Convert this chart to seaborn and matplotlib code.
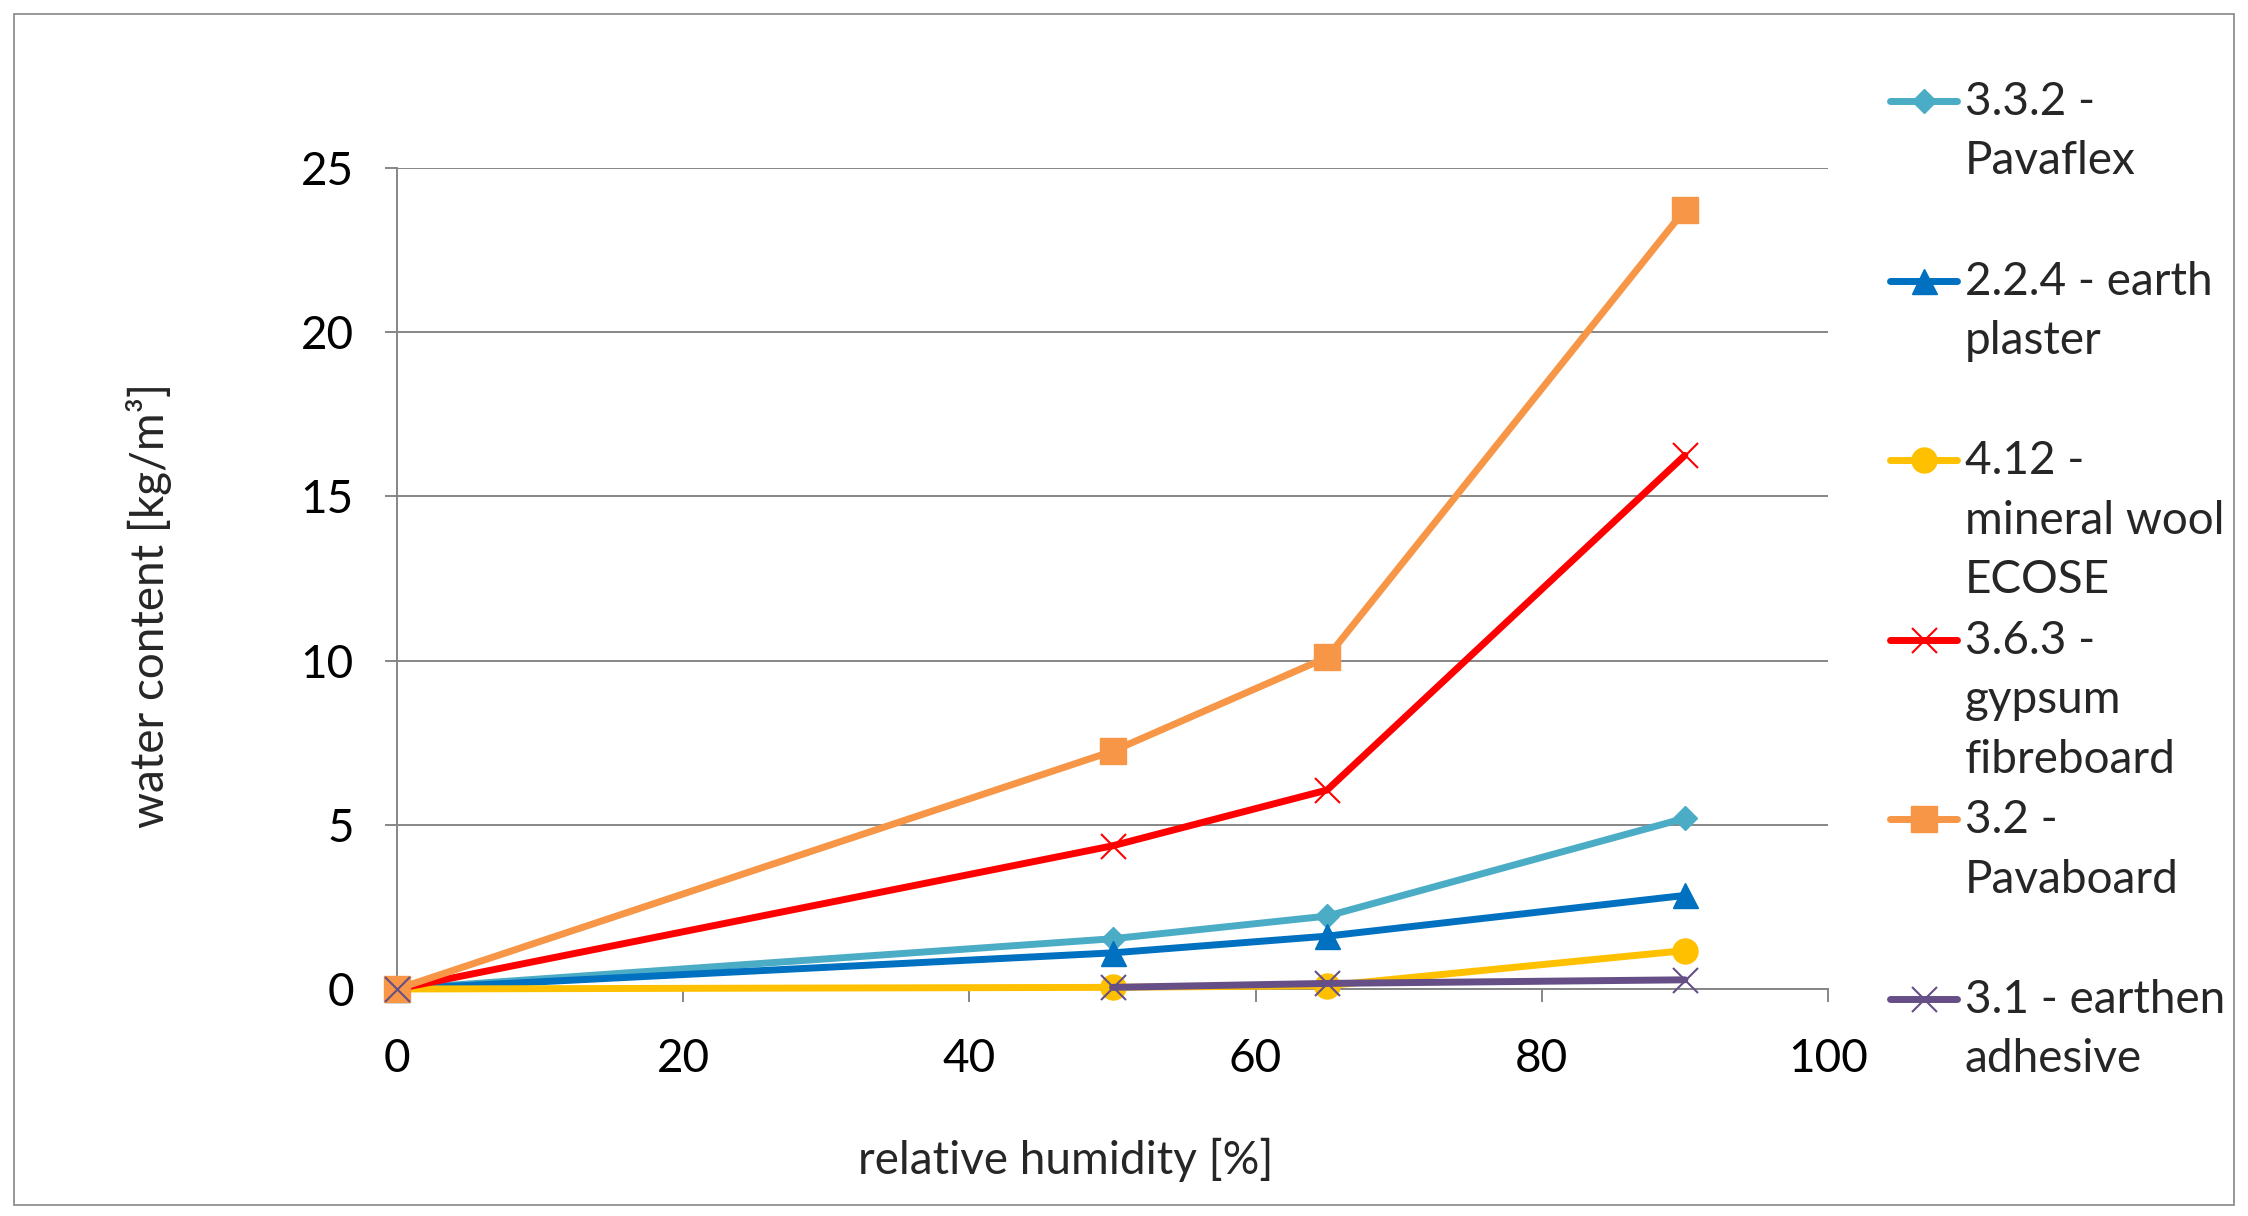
import numpy as np
import pandas as pd
import matplotlib
matplotlib.use("Agg")
import matplotlib.pyplot as plt
import seaborn as sns
from matplotlib.transforms import Affine2D
from matplotlib.patches import Rectangle
from matplotlib.font_manager import FontProperties

# ---------------- data ----------------
rh = [0, 50, 65, 90]
pavaflex = [0, 1.53, 2.22, 5.20]
earth_plaster = [0, 1.10, 1.61, 2.85]
mineral_wool = [0, 0.05, 0.10, 1.17]
gypsum = [0, 4.36, 6.06, 16.25]
pavaboard = [0, 7.24, 10.10, 23.73]
earthen_adhesive = [0, 0.05, 0.17, 0.28]
# line segments (earthen adhesive is not connected between 0 and 50 % RH)
segments_default = [0, 0, 0, 0]
segments_adhesive = [0, 1, 1, 1]

series_names = ["3.3.2 - Pavaflex", "2.2.4 - earth plaster", "4.12 - mineral wool ECOSE",
                "3.6.3 - gypsum fibreboard", "3.2 - Pavaboard", "3.1 - earthen adhesive"]
legend_labels = ["3.3.2 -\nPavaflex\n", "2.2.4 - earth\nplaster\n", "4.12 -\nmineral wool\nECOSE",
                 "3.6.3 -\ngypsum\nfibreboard", "3.2 -\nPavaboard\n", "3.1 - earthen\nadhesive\n"]
series_values = [pavaflex, earth_plaster, mineral_wool, gypsum, pavaboard, earthen_adhesive]
series_segments = [segments_default] * 5 + [segments_adhesive]
x_ticks = [0, 20, 40, 60, 80, 100]
y_ticks = [0, 5, 10, 15, 20, 25]
x_label = "relative humidity [%]"
y_label = "water content [kg/m³]"

# ---------------- styles ----------------
colors = ["#4BACC6", "#0070C0", "#FFC000", "#FF0000", "#F79646", "#664F86"]
markers = ["D", "^", "o", "x", "s", "x"]
msizes = [12.5, 18, 18, 18, 19, 18]
mews = [1, 1, 1, 1.5, 1, 1.5]
LW = 5.0
GRAY = "#868686"
FS = 33

W, H, DPI = 2248, 1216, 100
sns.set_style("white")
plt.rcParams["font.family"] = ["Lato", "DejaVu Sans"]

fig = plt.figure(figsize=(W / DPI, H / DPI), dpi=DPI)
ax = fig.add_axes([397 / W, 1 - 989 / H, (1828 - 397) / W, (989 - 168) / H])

handles = []
for name, vals, segs, c, m, ms, mew in zip(series_names, series_values, series_segments,
                                          colors, markers, msizes, mews):
    df = pd.DataFrame({"rh": rh, "water": vals, "seg": segs})
    sns.lineplot(data=df, x="rh", y="water", units="seg", estimator=None, sort=False,
                 color=c, marker=m, markersize=ms, markeredgecolor=c, markerfacecolor=c,
                 markeredgewidth=mew, linewidth=LW, solid_capstyle="round",
                 solid_joinstyle="round", clip_on=False, zorder=3, ax=ax, legend=False)
    handles.append(ax.lines[-1])

ax.set_xlim(0, 100)
ax.set_ylim(0, 25)
ax.set_xticks(x_ticks)
ax.set_yticks(y_ticks)
ax.grid(False)
ax.yaxis.grid(True, color=GRAY, linewidth=1.4)
ax.set_axisbelow(True)
for s in ["top", "right"]:
    ax.spines[s].set_visible(False)
for s in ["left", "bottom"]:
    ax.spines[s].set_color(GRAY)
    ax.spines[s].set_linewidth(1.4)
ax.tick_params(axis="both", which="major", direction="out", length=9, width=1.4,
               color=GRAY, labelcolor="black", labelsize=FS, bottom=True, left=True)
ax.tick_params(axis="x", pad=26)
ax.tick_params(axis="y", pad=22)

ax.set_xlabel(x_label, fontsize=FS)
ax.set_ylabel(y_label, fontsize=FS)
ax.xaxis.set_label_coords((1066 - 397) / 1431, (989 - 1138) / 821)
ax.yaxis.set_label_coords((172 - 397) / 1431, (989 - 605) / 821)

# outer chart border
fig.add_artist(Rectangle((14 / W, 1 - 1205 / H), 2220 / W, 1191 / H, transform=fig.transFigure,
                         fill=False, edgecolor=GRAY, linewidth=1.2))

# ---------------- legend (Excel-like: key aligned with first text line) ----------------
fs_px = FS * DPI / 72
TEXT_LEFT_HANDLE_X = 1890       # px, start of key line
TARGET_STEP = 59.5              # px between text lines
TARGET_PITCH = 179.6            # px between entries
FIRST_BASELINE = 115            # px from top, first line of first entry
KEY_ABOVE_BASELINE = 14         # px

renderer = fig.canvas.get_renderer()
fp = FontProperties(family=["Lato", "DejaVu Sans"], size=FS)
_, lp_h, lp_d = renderer.get_text_width_height_descent("lp", fp, ismath=False)
ascent = lp_h - lp_d


def make_legend(linespacing, labelspacing, top_px):
    lg = ax.legend(handles, legend_labels, loc="upper left",
                   bbox_to_anchor=(TEXT_LEFT_HANDLE_X / W, 1 - top_px / H),
                   bbox_transform=fig.transFigure, frameon=False, fontsize=FS,
                   borderpad=0, borderaxespad=0, handlelength=67 / fs_px,
                   handleheight=0.7, handletextpad=8 / fs_px,
                   labelspacing=labelspacing, numpoints=1)
    for t in lg.get_texts():
        t.set_linespacing(linespacing)
    return lg


def text_height(lg):
    fig.canvas.draw()
    return lg.get_texts()[0].get_window_extent(renderer).height


# calibrate line spacing: 3-line box height H(L) = a + 2*b*L
leg = make_legend(1.0, 0.0, 84)
h1 = text_height(leg)
leg.remove()
leg = make_legend(2.0, 0.0, 84)
h2 = text_height(leg)
leg.remove()
b = (h2 - h1) / 2.0
a = h1 - 2 * b
# line step(L) = (H(L) - lp_h) / 2 = (a - lp_h) / 2 + b * L
ls_line = (TARGET_STEP - (a - lp_h) / 2.0) / b
h_star = a + 2 * b * ls_line
ls_label = max(TARGET_PITCH - h_star, 0) / fs_px

leg = make_legend(ls_line, ls_label, 84)
fig.canvas.draw()
t0 = leg.get_texts()[0].get_window_extent(renderer)
first_base = (H - t0.y1) + ascent
leg.remove()
leg = make_legend(ls_line, ls_label, 84 + (FIRST_BASELINE - first_base))
fig.canvas.draw()

# move each key to the first line of its label
for hnd, txt in zip(leg.legend_handles, leg.get_texts()):
    te = txt.get_window_extent(renderer)
    base_disp = te.y1 - ascent                 # display y of first baseline
    target_y = base_disp + KEY_ABOVE_BASELINE
    ydata = hnd.get_ydata()[0]
    cur_y = hnd.get_transform().transform((0, ydata))[1]
    hnd.set_transform(hnd.get_transform() + Affine2D().translate(0, target_y - cur_y))

fig.savefig("out.png", dpi=DPI, facecolor="white")
